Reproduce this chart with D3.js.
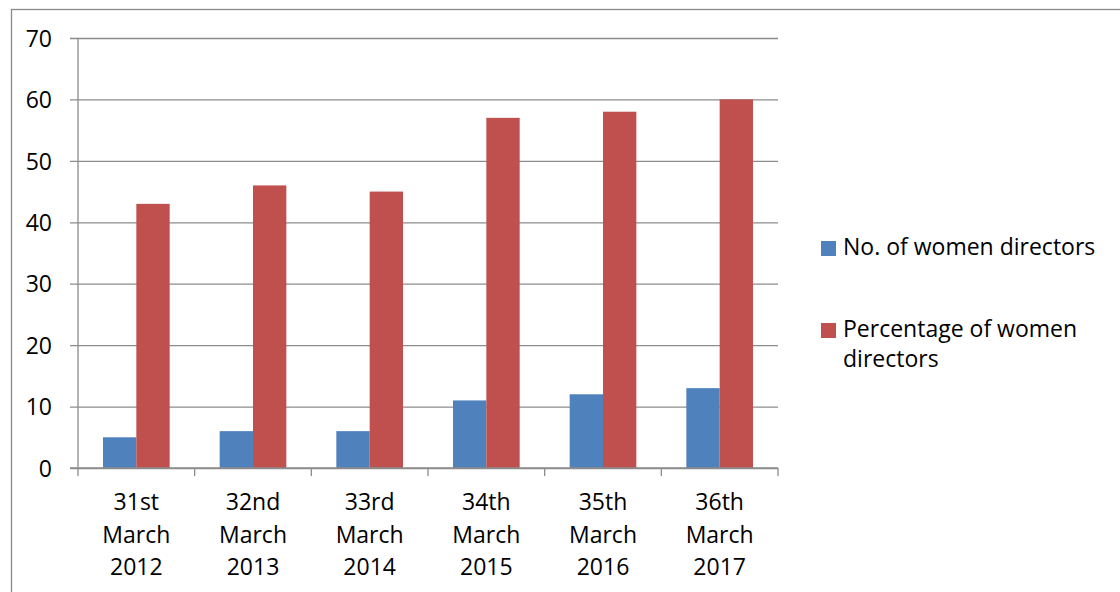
<!DOCTYPE html>
<html><head><meta charset="utf-8">
<script src="https://cdn.jsdelivr.net/npm/d3@7"></script>
<style>body{margin:0;background:#fff}svg{display:block}</style>
</head><body>
<svg id="c" width="1120" height="592"></svg>
<script>
const categories = [["31st","March","2012"],["32nd","March","2013"],["33rd","March","2014"],["34th","March","2015"],["35th","March","2016"],["36th","March","2017"]];
const seriesNames = ["No. of women directors", "Percentage of women directors"];
const womenDirectors = [5, 6, 6, 11, 12, 13];
const percentWomen = [43, 46, 45, 57, 58, 60];
const yTicks = [0, 10, 20, 30, 40, 50, 60, 70];
const colors = ["#4F81BD", "#C0504D"];

const FONT = "'Open Sans', Lato, sans-serif";
const FS = 23;
const svg = d3.select("#c");
const L = 78, R = 778, T = 38, B = 468;

// outer border
svg.append("rect").attr("x", 11.5).attr("y", 9.5).attr("width", 1130).attr("height", 600)
  .attr("fill", "none").attr("stroke", "#898989").attr("stroke-width", 1.3);

const x = d3.scaleBand().domain(d3.range(categories.length)).range([L, R]).paddingInner(0).paddingOuter(0);
const y = d3.scaleLinear().domain([0, 70]).range([B, T]);
const sub = d3.scaleBand().domain([0, 1]).range([0, x.bandwidth()]).paddingInner(0).paddingOuter(0.75);

// gridlines & y axis
const yAxis = d3.axisLeft(y).tickValues(yTicks).tickSize(-(R - L)).tickFormat(d3.format("d"));
const gy = svg.append("g").attr("transform", `translate(${L},0)`).call(yAxis);
gy.select(".domain").remove();
gy.selectAll(".tick line").attr("stroke", "#8c8c8c").attr("stroke-width", 1.3).attr("x1", -8);
gy.selectAll(".tick text").attr("x", -26).attr("dy", "0.36em").attr("font-family", FONT).attr("font-size", FS).attr("fill", "#000");
svg.append("line").attr("x1", L).attr("x2", L).attr("y1", T).attr("y2", B).attr("stroke", "#8c8c8c").attr("stroke-width", 1.3);

// bars
const data = [womenDirectors, percentWomen];
data.forEach((vals, si) => {
  svg.append("g").selectAll("rect").data(vals).join("rect")
    .attr("x", (d, i) => x(i) + sub(si))
    .attr("y", d => y(d))
    .attr("width", sub.bandwidth())
    .attr("height", d => y(0) - y(d))
    .attr("fill", colors[si]);
});

// x axis
const gx = svg.append("g").attr("transform", `translate(0,${B})`);
gx.append("line").attr("x1", L - 8).attr("x2", R).attr("stroke", "#8c8c8c").attr("stroke-width", 1.3);
d3.range(categories.length + 1).forEach(i => {
  const xx = i < categories.length ? x(i) : R;
  gx.append("line").attr("x1", xx).attr("x2", xx).attr("y1", 0).attr("y2", 8).attr("stroke", "#8c8c8c").attr("stroke-width", 1.3);
});
categories.forEach((lines, i) => {
  const t = gx.append("text").attr("text-anchor", "middle").attr("font-family", FONT).attr("font-size", FS).attr("fill", "#000");
  lines.forEach((ln, k) => t.append("tspan").attr("x", x(i) + x.bandwidth() / 2).attr("y", 42 + k * 32.5).text(ln));
});

// legend
const lg = svg.append("g");
const legendLines = [["No. of women directors"], ["Percentage of women", "directors"]];
const legendY = [241, 323];
legendLines.forEach((lines, i) => {
  lg.append("rect").attr("x", 821).attr("y", legendY[i]).attr("width", 15).attr("height", 15).attr("fill", colors[i]);
  const t = lg.append("text").attr("font-family", FONT).attr("font-size", FS).attr("fill", "#000");
  lines.forEach((ln, k) => t.append("tspan").attr("x", 843).attr("y", legendY[i] + 14 + k * 30).text(ln));
});
</script>
</body></html>
